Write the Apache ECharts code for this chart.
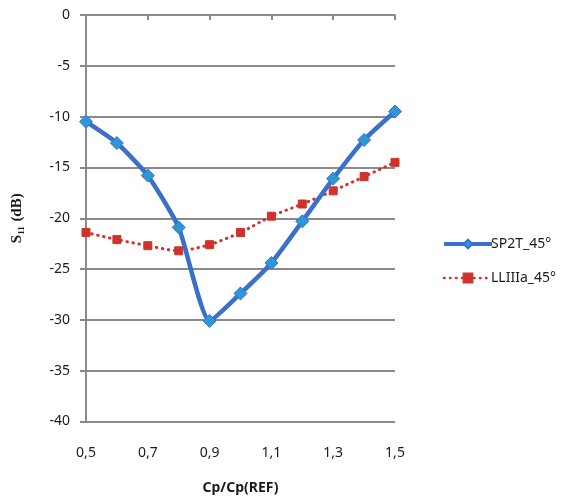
<!DOCTYPE html>
<html>
<head>
<meta charset="utf-8">
<script src="https://cdn.jsdelivr.net/npm/echarts@6/dist/echarts.min.js"></script>
<style>
html,body{margin:0;padding:0;background:#fff;}
#chart{width:564px;height:502px;}
</style>
</head>
<body>
<div id="chart"></div>
<script>
// Capacitance ratio sweep (Cp/Cp(REF))
const ratios = ['0,5','0,6','0,7','0,8','0,9','1,0','1,1','1,2','1,3','1,4','1,5'];
// Return loss S11 in dB
const sp2t45 = [-10.5, -12.6, -15.8, -20.9, -30.1, -27.4, -24.4, -20.3, -16.1, -12.3, -9.5];
const lliiia45 = [-21.4, -22.1, -22.7, -23.2, -22.6, -21.4, -19.8, -18.6, -17.3, -15.9, -14.5];
const seriesNames = ['SP2T_45°', 'LLIIIa_45°'];

const font = '"Noto Sans", "Liberation Sans", sans-serif';
const gridGray = '#8a8a8a';
const blueLine = '#3a6fcb';
const redLine = '#d3302b';

const chart = echarts.init(document.getElementById('chart'), null, {renderer: 'canvas'});
chart.setOption({
  animation: false,
  backgroundColor: '#ffffff',
  grid: {left: 86, top: 15, width: 309, height: 406.5, containLabel: false},
  legend: {
    orient: 'vertical',
    left: 437,
    top: 232,
    itemWidth: 48,
    itemHeight: 11,
    itemGap: 20,
    textStyle: {fontFamily: font, fontSize: 14, color: '#1a1a1a', padding: [0, 0, 0, -6]},
    data: [
      {name: seriesNames[0], lineStyle: {width: 4, color: blueLine}},
      {name: seriesNames[1], lineStyle: {width: 2.5, color: redLine, type: [0.5, 5.5], cap: 'round'}}
    ]
  },
  xAxis: {
    type: 'category',
    data: ratios,
    boundaryGap: false,
    name: 'Cp/Cp(REF)',
    nameLocation: 'middle',
    nameGap: 60,
    nameTextStyle: {fontFamily: font, fontSize: 14, fontWeight: 'bold', color: '#1a1a1a'},
    axisLine: {lineStyle: {color: gridGray, width: 2}},
    axisTick: {show: true, interval: 1, length: 5, lineStyle: {color: gridGray, width: 2}},
    axisLabel: {interval: 1, fontFamily: font, fontSize: 14, color: '#1a1a1a', margin: 25},
    splitLine: {show: false}
  },
  yAxis: {
    type: 'value',
    min: -40,
    max: 0,
    interval: 5,
    name: '{s|S}{sub|11}{s| (dB)}',
    nameLocation: 'middle',
    nameGap: 60,
    nameRotate: 90,
    nameTextStyle: {
      rich: {
        s: {fontFamily: '"Liberation Serif", serif', fontSize: 15, fontWeight: 'bold', color: '#1a1a1a'},
        sub: {fontFamily: '"Liberation Serif", serif', fontSize: 9, fontWeight: 'bold', color: '#1a1a1a', verticalAlign: 'bottom', padding: [8, 1, 0, 0]}
      }
    },
    axisLine: {show: true, lineStyle: {color: gridGray, width: 2}},
    axisTick: {show: true, length: 6, lineStyle: {color: gridGray, width: 2}},
    axisLabel: {fontFamily: font, fontSize: 14, color: '#1a1a1a', margin: 16},
    splitLine: {show: true, lineStyle: {color: gridGray, width: 2}}
  },
  series: [
    {
      name: seriesNames[0],
      type: 'line',
      data: sp2t45,
      smooth: 0.18,
      symbol: 'diamond',
      symbolSize: 13,
      z: 3,
      lineStyle: {color: blueLine, width: 4.5},
      itemStyle: {color: '#2d97d8', borderColor: '#3a72c8', borderWidth: 1}
    },
    {
      name: seriesNames[1],
      type: 'line',
      data: lliiia45,
      smooth: 0.25,
      symbol: 'rect',
      symbolSize: 8,
      z: 2,
      lineStyle: {color: redLine, width: 3, type: [0.5, 5.5], cap: 'round'},
      itemStyle: {color: redLine, borderColor: '#c8392f', borderWidth: 1}
    }
  ]
});
</script>
</body>
</html>
